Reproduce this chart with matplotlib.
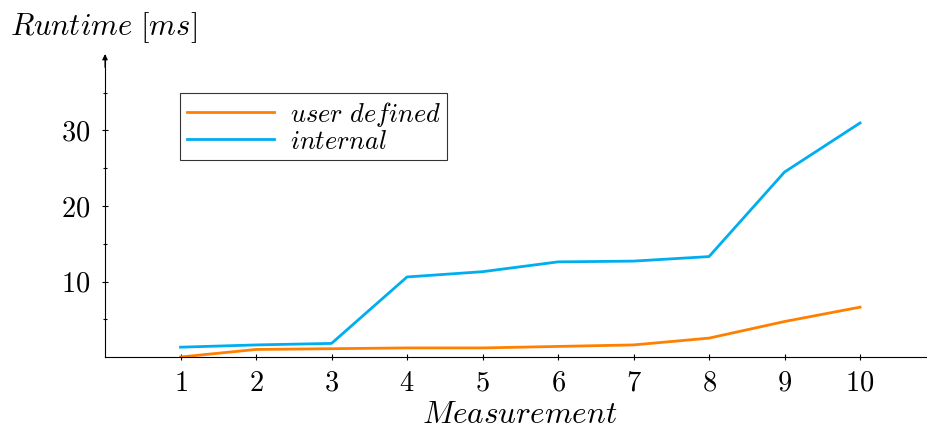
import numpy as np
from matplotlib import pyplot as plt

plt.rcParams['mathtext.fontset'] = 'cm'
plt.rcParams['font.family'] = 'cmr10'
plt.rcParams['axes.formatter.use_mathtext'] = True

measurement = [1, 2, 3, 4, 5, 6, 7, 8, 9, 10]
user_defined = [0.0, 1.0, 1.1, 1.2, 1.2, 1.4, 1.6, 2.5, 4.7, 6.6]
internal = [1.3, 1.6, 1.8, 10.6, 11.3, 12.6, 12.7, 13.3, 24.5, 31.0]

fig = plt.figure(figsize=(9.28, 4.32), dpi=100)
ax = fig.add_axes([105/928, 1-357/432, 823/928, 302/432])

ax.plot(measurement, user_defined, color='#ff8000', lw=2, label=r'$user\ defined$')
ax.plot(measurement, internal, color='#00aeef', lw=2, label=r'$internal$')

ax.set_xlim(0, 10.9)
ax.set_ylim(0, 40)
ax.set_xticks(measurement)
ax.set_yticks([10, 20, 30])
ax.set_yticks([5, 15, 25, 35], minor=True)

for s in ['top', 'right']:
    ax.spines[s].set_visible(False)
ax.spines['left'].set_linewidth(0.8)
ax.spines['bottom'].set_linewidth(0.8)
ax.tick_params(axis='both', which='major', direction='inout', length=4.5, width=0.8,
               labelsize=20.5)
ax.tick_params(axis='x', which='major', pad=7.5)
ax.tick_params(axis='y', which='major', pad=8.5)
ax.tick_params(axis='y', which='minor', direction='inout', length=2.5, width=0.8)

# arrow tip on the y axis
ax.annotate('', xy=(0, 1.012), xytext=(0, 0.95), xycoords='axes fraction',
            arrowprops=dict(arrowstyle='-|>', color='black', lw=0.8,
                            mutation_scale=8))

ax.set_xlabel(r'$Measurement$', fontsize=22.5)
ax.xaxis.set_label_coords(0.504, -0.145)
ax.set_ylabel(r'$Runtime\ [ms]$', fontsize=22, rotation=0, ha='left', va='center')
ax.yaxis.set_label_coords(-0.116, 1.09)

leg = ax.legend(loc='upper left', bbox_to_anchor=(75/823, (357-93)/302),
                fontsize=19, frameon=True, fancybox=False, edgecolor='black',
                handlelength=3.3, borderpad=0.25, labelspacing=0.05,
                handletextpad=0.6, borderaxespad=0)
leg.get_frame().set_linewidth(0.8)

plt.savefig('out.png', dpi=100)
